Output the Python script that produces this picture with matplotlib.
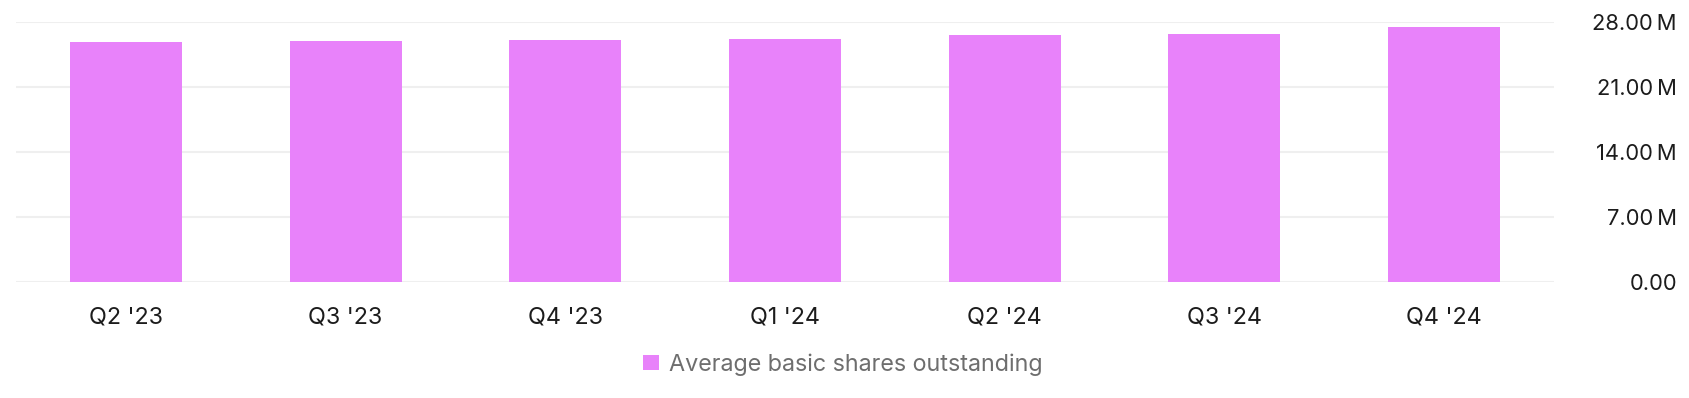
import matplotlib
matplotlib.use("Agg")
import matplotlib.pyplot as plt
from matplotlib.ticker import FuncFormatter, FixedLocator
from matplotlib.patches import Patch

plt.rcParams['font.family'] = ['Inter', 'DejaVu Sans']

quarters = ["Q2 '23", "Q3 '23", "Q4 '23", "Q1 '24", "Q2 '24", "Q3 '24", "Q4 '24"]
shares = [25.81e6, 25.92e6, 26.03e6, 26.14e6, 26.57e6, 26.67e6, 27.43e6]
yticks = [0, 7e6, 14e6, 21e6, 28e6]
series_name = "Average basic shares outstanding"

bar_color = "#E882FA"
grid_color = "#EFEFEF"

fig = plt.figure(figsize=(16.9, 3.98), dpi=100)
ax = fig.add_axes([16/1690, 1-281.7/398, (1554-16)/1690, (281.7-21.7)/398])

x = list(range(len(quarters)))
ax.bar(x, shares, width=0.51, color=bar_color, zorder=2)

ax.set_xlim(-0.5, len(quarters)-0.5)
ax.set_ylim(0, 28e6)
ax.yaxis.set_major_locator(FixedLocator(yticks))

def fmt(v, pos):
    if v == 0:
        return "0.00"
    return f"{v/1e6:.2f}\u2009M"
ax.yaxis.set_major_formatter(FuncFormatter(fmt))

ax.yaxis.tick_right()
ax.tick_params(axis='y', length=0, pad=88.5, labelsize=15.8, labelcolor="#1c1c1c")
for lab in ax.get_yticklabels():
    lab.set_horizontalalignment('right')
ax.set_xticks(x)
ax.set_xticklabels(quarters)
ax.tick_params(axis='x', length=0, pad=17.5, labelsize=16.8, labelcolor="#1c1c1c")

ax.grid(axis='y', color=grid_color, linewidth=1.5, zorder=0)
for s in ax.spines.values():
    s.set_visible(False)

leg = fig.legend(handles=[Patch(facecolor=bar_color, edgecolor='none', label=series_name)],
                 loc='center', bbox_to_anchor=(843/1690, 1-364.5/398), frameon=False,
                 fontsize=16.8, handlelength=0.65, handleheight=0.65, handletextpad=0.45,
                 labelcolor="#6e6e6e")

fig.savefig("out.png", dpi=100)
